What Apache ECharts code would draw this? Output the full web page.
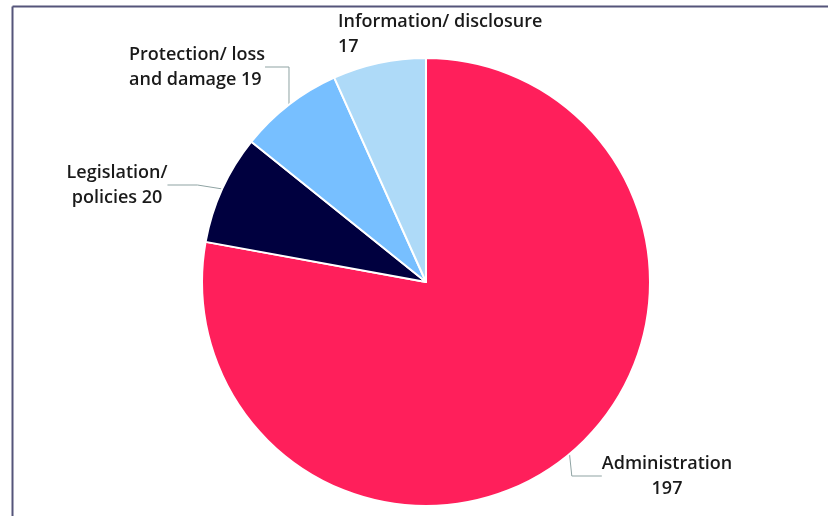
<!DOCTYPE html>
<html><head><meta charset="utf-8">
<script src="https://cdn.jsdelivr.net/npm/echarts@6/dist/echarts.min.js"></script>
<style>html,body{margin:0;padding:0;background:#fff}#c{width:828px;height:516px}</style>
</head><body><div id="c"></div>
<script>
const categories = ['Administration', 'Legislation/ policies', 'Protection/ loss and damage', 'Information/ disclosure'];
const values = [197, 20, 19, 17];
const labelTexts = ['Administration\n{c}', 'Legislation/\npolicies {c}', 'Protection/ loss\nand damage {c}', 'Information/ disclosure\n{c}'];
const colors = ['#FF1F5B', '#00003F', '#77BFFF', '#AEDAF8'];
// label placement: [x, y, align]
const labelPlace = [[667, 451, 'center'], [117, 160, 'center'], [129, 42, 'left'], [338, 9, 'left']];

const chart = echarts.init(document.getElementById('c'), null, {renderer: 'canvas'});
chart.setOption({
  animation: false,
  graphic: [
    {type: 'line', shape: {x1: 12.5, y1: 6.5, x2: 828, y2: 6.5}, style: {stroke: '#55557a', lineWidth: 2}},
    {type: 'line', shape: {x1: 12.5, y1: 6.5, x2: 12.5, y2: 516}, style: {stroke: '#55557a', lineWidth: 2}}
  ],
  series: [{
    type: 'pie',
    center: [426, 282],
    radius: [0, 224],
    startAngle: 90,
    clockwise: true,
    itemStyle: {borderColor: '#fff', borderWidth: 2},
    data: categories.map((n, i) => ({name: n, value: values[i], itemStyle: {color: colors[i]}})),
    label: {
      show: true,
      color: '#1a1a1a',
      fontFamily: 'Open Sans',
      fontWeight: 600,
      fontSize: 18,
      lineHeight: 25,
      formatter: p => labelTexts[p.dataIndex].replace('{c}', p.value)
    },
    labelLine: {show: true, lineStyle: {color: '#8fa3a3', width: 1}},
    labelLayout: p => {
      const lp = labelPlace[p.dataIndex];
      return {x: lp[0], y: lp[1], align: lp[2], verticalAlign: 'top'};
    }
  }]
});
</script></body></html>
